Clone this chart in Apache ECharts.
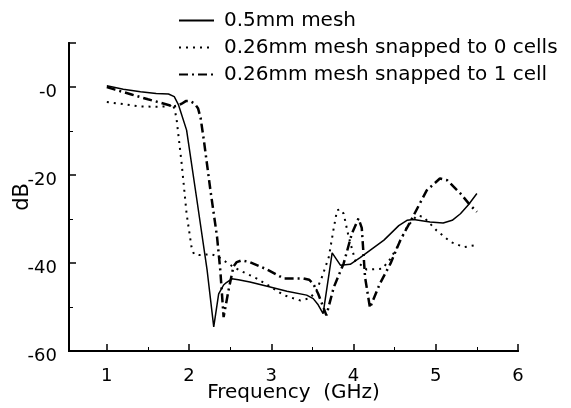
<!DOCTYPE html>
<html>
<head>
<meta charset="utf-8">
<script src="https://cdn.jsdelivr.net/npm/echarts@6/dist/echarts.min.js"></script>
<style>
  html, body { margin: 0; padding: 0; background: #fff; }
  #chart { width: 571px; height: 408px; }
</style>
</head>
<body>
<div id="chart"></div>
<script>
// series names
const names = ["0.5mm mesh", "0.26mm mesh snapped to 0 cells", "0.26mm mesh snapped to 1 cell"]

// [frequency GHz, dB]
const mesh05 = [
    [1.0, 0.3], [1.2, -0.5], [1.41, -1.1], [1.6, -1.5], [1.75, -1.6], [1.82, -2.2], [1.87, -4],
    [1.97, -9.8], [2.09, -25], [2.22, -41.7], [2.30, -54.5], [2.36, -47], [2.42, -45], [2.45, -44.5],
    [2.52, -43.6], [2.6, -43.8], [2.74, -44.3], [2.95, -45.3], [3.19, -46.4], [3.43, -47.3],
    [3.51, -48.1], [3.57, -49.5], [3.63, -51.5], [3.74, -37.7], [3.84, -40.5], [3.96, -40.3],
    [4.08, -38.8], [4.37, -34.8], [4.55, -31.5], [4.65, -30.3], [4.73, -30.1], [4.93, -30.7],
    [5.09, -30.9], [5.2, -30.3], [5.30, -28.8], [5.40, -26.7], [5.50, -24.2]
]
const snap0 = [
    [1.0, -3.4], [1.2, -3.9], [1.4, -4.4], [1.6, -4.5], [1.76, -4.4], [1.80, -3.8], [1.83, -5.5],
    [1.85, -7.6], [1.91, -17.4], [1.97, -28.8], [2.03, -36.4], [2.06, -38], [2.12, -38.2],
    [2.27, -38], [2.35, -38.5], [2.42, -39.4], [2.54, -40.9], [2.62, -41.7], [2.82, -43.5],
    [3.0, -45.5], [3.15, -47.3], [3.35, -48.5], [3.47, -48], [3.55, -46.2], [3.62, -43],
    [3.70, -38.6], [3.76, -32], [3.80, -28], [3.84, -27.8], [3.88, -28.8], [3.94, -34],
    [4.02, -39.4], [4.16, -41.5], [4.35, -41.3], [4.45, -39], [4.53, -36.4], [4.65, -31.8],
    [4.77, -29.2], [4.85, -29.5], [5.01, -32.6], [5.18, -35.2], [5.34, -36.4], [5.47, -36]
]
const snap1 = [
    [1.0, 0], [1.1, -0.6], [1.3, -1.7], [1.5, -2.8], [1.62, -3.4], [1.77, -4.2], [1.82, -4.4],
    [1.87, -4.2], [1.91, -3.8], [1.96, -3.2], [2.01, -3.2], [2.07, -3.8], [2.11, -4.9], [2.14, -7],
    [2.18, -12.1], [2.26, -23.5], [2.34, -34], [2.38, -41.7], [2.42, -52.3], [2.44, -52.3],
    [2.48, -46.2], [2.54, -40.8], [2.58, -39.8], [2.64, -39.4], [2.74, -39.8], [2.95, -41.5],
    [3.15, -43.5], [3.39, -43.5], [3.46, -43.8], [3.51, -44.7], [3.57, -47], [3.67, -51.9],
    [3.76, -45.5], [3.88, -40.1], [3.98, -33.3], [4.06, -29.9], [4.10, -32], [4.14, -43.2],
    [4.20, -50.2], [4.32, -44.7], [4.45, -40.1], [4.57, -34.8], [4.73, -29.2], [4.89, -23.5],
    [5.05, -20.8], [5.14, -21.2], [5.30, -24.2], [5.42, -26.9], [5.50, -28.4]
]

// axis ticks
const xMajor = [1, 2, 3, 4, 5, 6]
const xMinor = [1.5, 2.5, 3.5, 4.5, 5.5]
const yMajor = [-60, -40, -20, 0, 10]
const yMinor = [-50, -30, -10]
const yLabels = [-60, -40, -20, 0]

const FONT = "DejaVu Sans"
const X_MIN = 0.54, X_MAX = 6, Y_MIN = -60, Y_MAX = 10

const chart = echarts.init(document.getElementById("chart"))

const axisLine = { show: true, onZero: false, lineStyle: { color: "#000", width: 2 } }

chart.setOption({
    animation: false,
    backgroundColor: "#fff",
    textStyle: { fontFamily: FONT },
    grid: { left: 69, right: 53, top: 43, bottom: 57, outerBoundsMode: "none" },
    legend: {
        orient: "vertical",
        left: 178,
        top: 10,
        padding: 0,
        itemWidth: 35,
        itemHeight: 14,
        itemGap: 6,
        itemStyle: { opacity: 0 },
        textStyle: { fontFamily: FONT, fontSize: 20, color: "#000", lineHeight: 21, padding: [0, 0, 0, 5] },
        data: names
    },
    xAxis: [{
        type: "value",
        min: X_MIN,
        max: X_MAX,
        position: "bottom",
        name: "Frequency  (GHz)",
        nameLocation: "middle",
        nameGap: 32,
        nameMoveOverlap: false,
        nameTextStyle: { fontFamily: FONT, fontSize: 20, color: "#000" },
        axisLine: axisLine,
        axisTick: { inside: true, length: 7, customValues: xMajor, lineStyle: { color: "#000", width: 1.5 } },
        axisLabel: { customValues: xMajor, margin: 16, fontSize: 18, color: "#000", fontFamily: FONT },
        splitLine: { show: false }
    }, {
        type: "value",
        min: X_MIN,
        max: X_MAX,
        position: "bottom",
        axisLine: axisLine,
        axisTick: { inside: true, length: 4, customValues: xMinor, lineStyle: { color: "#000", width: 1 } },
        axisLabel: { show: false },
        splitLine: { show: false }
    }],
    yAxis: [{
        type: "value",
        min: Y_MIN,
        max: Y_MAX,
        interval: 20,
        position: "left",
        name: "dB",
        nameLocation: "middle",
        nameGap: 36,
        nameMoveOverlap: false,
        nameTextStyle: { fontFamily: FONT, fontSize: 21, color: "#000" },
        axisLine: axisLine,
        axisTick: { inside: true, length: 7, customValues: yMajor, lineStyle: { color: "#000", width: 1.5 } },
        axisLabel: {
            margin: 12,
            fontSize: 18,
            color: "#000",
            fontFamily: FONT,
            verticalAlign: "top",
            lineHeight: 10,
            customValues: yLabels,
            formatter: v => v === 0 ? "-0" : String(v)
        },
        splitLine: { show: false }
    }, {
        type: "value",
        min: Y_MIN,
        max: Y_MAX,
        position: "left",
        axisLine: axisLine,
        axisTick: { inside: true, length: 4, customValues: yMinor, lineStyle: { color: "#000", width: 1 } },
        axisLabel: { show: false },
        splitLine: { show: false }
    }],
    series: [{
        name: names[0],
        type: "line",
        symbol: "none",
        data: mesh05,
        lineStyle: { color: "#000", width: 1.5, type: "solid" },
        itemStyle: { color: "#000" }
    }, {
        name: names[1],
        type: "line",
        symbol: "none",
        data: snap0,
        lineStyle: { color: "#000", width: 2, type: [2, 5] },
        itemStyle: { color: "#000" }
    }, {
        name: names[2],
        type: "line",
        symbol: "none",
        data: snap1,
        lineStyle: { color: "#000", width: 2.5, type: [9, 4, 2, 4] },
        itemStyle: { color: "#000" }
    }]
})
</script>
</body>
</html>
